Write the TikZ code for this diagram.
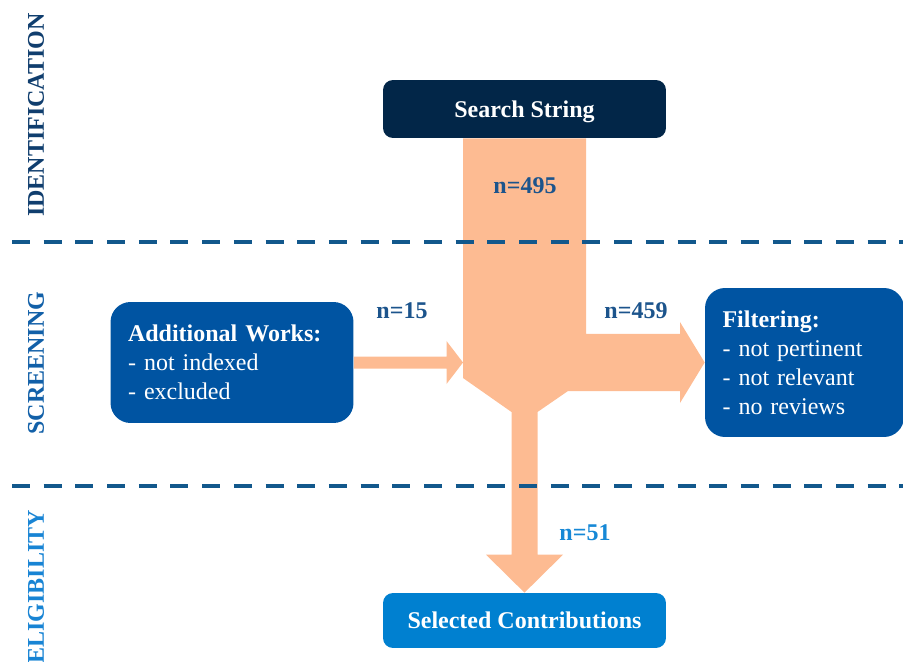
\documentclass[tikz,border=0pt]{standalone}
\usepackage{fontspec}
\setmainfont{Liberation Serif}
\usetikzlibrary{positioning,calc}
\definecolor{searchblue}{RGB}{2,38,72}
\definecolor{stepblue}{RGB}{0,84,162}
\definecolor{resultblue}{RGB}{0,128,208}
\definecolor{flowpeach}{RGB}{253,187,146}
\definecolor{phaseline}{RGB}{18,88,140}
\definecolor{countblue}{RGB}{28,84,140}
\definecolor{countlight}{RGB}{22,136,214}
\definecolor{phaseid}{RGB}{16,62,110}
\definecolor{phasescr}{RGB}{18,96,168}
\definecolor{phaseeli}{RGB}{24,132,212}
\newcommand{\flowfont}{\fontsize{13.66}{16.5}\selectfont}
\pgfmathsetmacro{\mainhalf}{61.5}
\pgfmathsetmacro{\stemhalf}{13}
\tikzset{
    title box/.style={rounded corners=0.2cm, inner sep=0pt, minimum width=5.66cm,
        text depth=0pt, text=white, font=\flowfont\bfseries},
    list box/.style={fill=stepblue, rounded corners=0.4cm, inner xsep=0.35cm,
        inner ysep=0pt, align=left, text=white, font=\flowfont},
    count/.style={font=\flowfont\bfseries, text=countblue, inner sep=0pt},
    phase/.style={rotate=90, font=\flowfont\bfseries, inner sep=0pt},
    phase line/.style={phaseline, line width=0.08cm, dash pattern=on 0.36cm off 0.274cm},
}

\begin{document}
\begin{tikzpicture}[x=0.02cm, y=-0.02cm]
    \useasboundingbox (0,0) rectangle (903,662);
    % define boxes
    \node[title box, fill=searchblue, minimum height=1.16cm] (search) at (524.5,109) {Search String};
    \node[title box, fill=resultblue, minimum height=1.1cm] (selected) at (524.5,620.5) {Selected Contributions};
    \node[list box, minimum width=4.86cm, minimum height=2.42cm, text width=4.16cm] (additional) at (232,362.5)
        {\textbf{Additional Works:}\\- not indexed\\- excluded};
    \node[list box, minimum width=3.98cm, minimum height=2.98cm, text width=3.28cm] (filtering) at (804.5,362.5)
        {\textbf{Filtering:}\\- not pertinent\\- not relevant\\- no reviews};
    % phases
    \node[phase, text=phaseid] (identification) at (36,115) {IDENTIFICATION};
    \node[phase, text=phasescr] (screening) at (36,363) {SCREENING};
    \node[phase, text=phaseeli] (eligibility) at (36,587) {ELIGIBILITY};
    % flows
    \coordinate (hub) at (search.south |- additional.east);
    \fill[flowpeach] ($(search.south)+(-\mainhalf,0)$) -- ($(search.south)+(\mainhalf,0)$)
        -- ($(hub)+(\mainhalf,-28.5)$) -- ($(hub)+(155.5,-28.5)$) -- ($(hub)+(155.5,-40.5)$)
        -- (filtering.west)
        -- ($(hub)+(155.5,40.5)$) -- ($(hub)+(155.5,28.5)$) -- ($(hub)+(43.5,28.5)$)
        -- ($(hub)+(\stemhalf,49.5)$) -- ($(selected.north)+(\stemhalf,-38)$)
        -- ($(selected.north)+(38.5,-38)$) -- (selected.north) -- ($(selected.north)+(-38.5,-38)$)
        -- ($(selected.north)+(-\stemhalf,-38)$) -- ($(hub)+(-\stemhalf,49.5)$)
        -- ($(hub)+(-\mainhalf,15.5)$) -- cycle;
    \fill[flowpeach] ($(additional.east)+(0,-6)$) -- ($(hub)+(-78,-6)$) -- ($(hub)+(-78,-21.5)$)
        -- ($(hub)+(-\mainhalf,0)$)
        -- ($(hub)+(-78,21.5)$) -- ($(hub)+(-78,6)$) -- ($(additional.east)+(0,6)$) -- cycle;
    % phase borders
    \draw[phase line] (12,242) -- (903,242);
    \draw[phase line] (12,486) -- (903,486);
    % add counts
    \node[count] (n_search) at (525,186) {n=495};
    \node[count] (n_additional) at (402,311) {n=15};
    \node[count] (n_filtering) at (636,311) {n=459};
    \node[count, text=countlight] (n_selected) at (585,533) {n=51};
\end{tikzpicture}
\end{document}
